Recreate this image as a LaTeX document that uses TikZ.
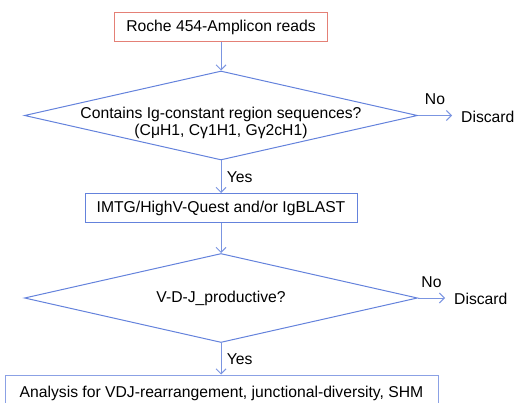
\documentclass[tikz,border=0pt]{standalone}
\usepackage{fontspec}
\setmainfont{Liberation Sans}
\usetikzlibrary{shapes.geometric,arrows.meta}
\definecolor{flowblue}{RGB}{100,130,220}
\definecolor{flowred}{RGB}{228,128,118}

\begin{document}
\begin{tikzpicture}[x=1pt,y=-1pt,font=\fontsize{15.7}{17}\selectfont,
	box/.style={rectangle,draw=flowblue,line width=1pt,inner sep=0pt},
	decision/.style={diamond,draw=flowblue,line width=1pt,inner sep=0pt,
		minimum width=393pt,minimum height=89pt},
	discard/.style={anchor=west,inner xsep=9pt},
	arr/.style={draw=flowblue!85,line width=1pt,-{Straight Barb[length=5pt,width=10pt]}}]
\useasboundingbox (0,0) rectangle (516,403);
\node [box,draw=flowred,minimum width=213pt,minimum height=29pt] (reads) at (221,27) {Roche 454-Amplicon reads};
\node [decision,label={[align=center,yshift=-7pt]center:Contains Ig-constant region sequences?\\(CμH1, Cγ1H1, Gγ2cH1)}] (igc) at (221,115.5) {};
\node [discard] (d1) at (452,117) {Discard};
\node [box,minimum width=272pt,minimum height=29pt] (blast) at (221,208) {IMTG/HighV-Quest and/or IgBLAST};
\node [decision,label={center:V-D-J\_productive?}] (vdj) at (221,298) {};
\node [discard] (d2) at (445,299) {Discard};
\node [box,draw=flowblue!75,minimum width=433pt,minimum height=36pt] (shm) at (221.5,393) {Analysis for VDJ-rearrangement, junctional-diversity, SHM};
% connectors
\draw [arr] (reads.south) -- (igc.north);
\draw [arr] (igc.east) -- node[above=7pt] {No} (igc.east -| d1.west);
\draw [arr] (igc.south) -- node[right=2pt] {Yes} (blast.north);
\draw [arr] (blast.south) -- (vdj.north);
\draw [arr] (vdj.east) -- node[above=7pt] {No} (vdj.east -| d2.west);
\draw [arr] (vdj.south) -- node[right=2pt] {Yes} (vdj.south |- shm.north);
\end{tikzpicture}
\end{document}
